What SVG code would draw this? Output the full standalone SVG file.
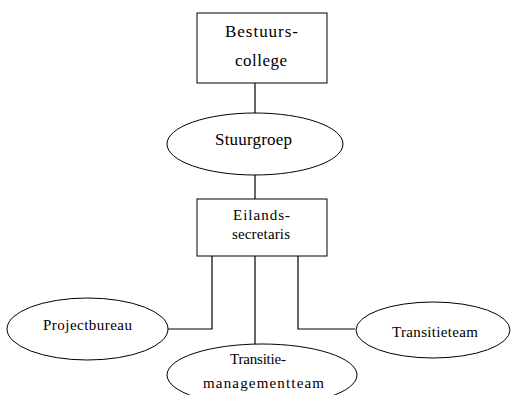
<svg xmlns="http://www.w3.org/2000/svg" width="511" height="395" viewBox="0 0 511 395">
<style>
.n{fill:#fff;stroke:#000;stroke-width:1}
.c{fill:none;stroke:#000;stroke-width:1.2}
text{font-family:"Liberation Serif","Times New Roman",serif;fill:#000;text-anchor:middle}
.b{font-size:17px}
.s{font-size:15px}
</style>
<rect width="511" height="395" fill="#fff"/>
<g id="connectors">
<path class="c" d="M255 83V113"/>
<path class="c" d="M255 175V199"/>
<path class="c" d="M212 256V329H168"/>
<path class="c" d="M255 256V344"/>
<path class="c" d="M298 256V329H355"/>
</g>
<g id="bestuurscollege">
<rect class="n" x="197" y="13" width="130" height="70"/>
<text class="b" x="261.5" y="37" textLength="73" lengthAdjust="spacing">Bestuurs-</text>
<text class="b" x="261" y="66" textLength="52" lengthAdjust="spacing">college</text>
</g>
<g id="stuurgroep">
<ellipse class="n" cx="255" cy="144" rx="88" ry="31"/>
<text class="b" x="253.5" y="145" textLength="77" lengthAdjust="spacing">Stuurgroep</text>
</g>
<g id="eilandssecretaris">
<rect class="n" x="197" y="199" width="130" height="57"/>
<text class="s" x="261.5" y="220" textLength="57" lengthAdjust="spacing">Eilands-</text>
<text class="s" x="261" y="239" textLength="58" lengthAdjust="spacing">secretaris</text>
</g>
<g id="projectbureau">
<ellipse class="n" cx="87.5" cy="329" rx="80.5" ry="31"/>
<text class="s" x="87.5" y="330" textLength="89" lengthAdjust="spacing">Projectbureau</text>
</g>
<g id="transitieteam">
<ellipse class="n" cx="433" cy="330" rx="77" ry="28"/>
<text class="s" x="435" y="337" textLength="86" lengthAdjust="spacing">Transitieteam</text>
</g>
<g id="transitiemanagementteam">
<ellipse class="n" cx="262" cy="375" rx="95" ry="31"/>
<text class="s" x="258" y="364" textLength="56" lengthAdjust="spacing">Transitie-</text>
<text class="s" x="263.5" y="388" textLength="121" lengthAdjust="spacing">managementteam</text>
</g>
</svg>
